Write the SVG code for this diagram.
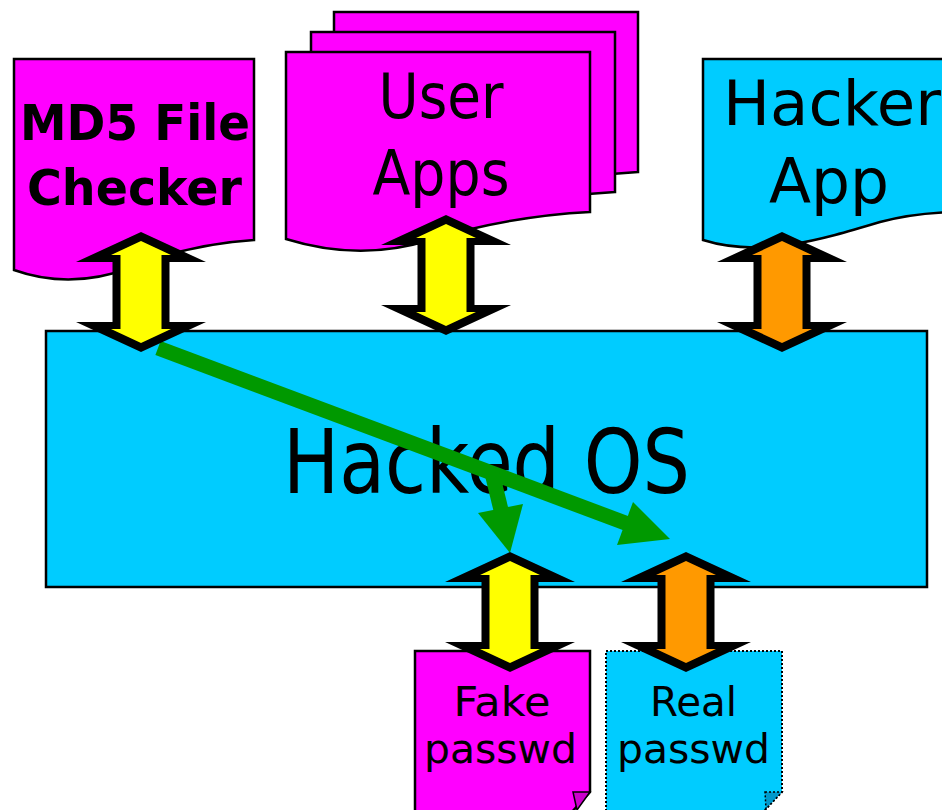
<svg xmlns="http://www.w3.org/2000/svg" xmlns:xlink="http://www.w3.org/1999/xlink" width="942" height="810" viewBox="0 0 942 810">
<style>
  .mag { fill: #FF00FF; stroke: #000; stroke-width: 2.5; stroke-linejoin: miter; }
  .cyan { fill: #00CCFF; stroke: #000; stroke-width: 2.5; }
  .dot { fill: #00CCFF; stroke: #000; stroke-width: 2; stroke-dasharray: 2 2; }
  .t { font-family: "DejaVu Sans", Verdana, sans-serif; fill: #000; text-anchor: middle; }
  .b { font-weight: bold; }
  .outer { fill: #000; }
  .yel { fill: #FFFF00; }
  .org { fill: #FF9900; }
  .green { stroke: #009900; stroke-width: 15; fill: none; }
  .ghead { fill: #009900; }
</style>
<defs>
  <polygon id="arrow-outer" points="0,0 65,30 28.5,30 28.5,90 65,90 0,120 -65,90 -28.5,90 -28.5,30 -65,30"/>
  <polygon id="arrow-inner" points="0,9 30,23 20.5,23 20.5,97 30,97 0,111 -30,97 -20.5,97 -20.5,23 -30,23"/>
</defs>

<g id="md5-checker">
  <path class="mag" d="M14,270 Q70,290 130,268 Q190,244 254,240 L254,59 L14,59 Z"/>
  <text class="t b" x="135" y="140" font-size="50" textLength="230" lengthAdjust="spacingAndGlyphs">MD5 File</text>
  <text class="t b" x="134.5" y="205" font-size="50" textLength="215" lengthAdjust="spacingAndGlyphs">Checker</text>
</g>

<g id="user-apps">
  <path class="mag" transform="translate(48,-40)" d="M286,239 Q360,262 430,240 Q510,216 590,212 L590,52 L286,52 Z"/>
  <path class="mag" transform="translate(25,-20)" d="M286,239 Q360,262 430,240 Q510,216 590,212 L590,52 L286,52 Z"/>
  <path class="mag" d="M286,239 Q360,262 430,240 Q510,216 590,212 L590,52 L286,52 Z"/>
  <text class="t" x="441" y="118" font-size="62" textLength="125" lengthAdjust="spacingAndGlyphs">User</text>
  <text class="t" x="441" y="195" font-size="62" textLength="137" lengthAdjust="spacingAndGlyphs">Apps</text>
</g>

<g id="hacker-app">
  <path class="cyan" d="M703,240 C760,258 820,240 880,222 C905,215 925,213 950,212 L950,59 L703,59 Z"/>
  <text class="t" x="723" y="125" font-size="62" text-anchor="start" style="text-anchor:start" textLength="218" lengthAdjust="spacingAndGlyphs">Hacker</text>
  <text class="t" x="829" y="203" font-size="62" textLength="120" lengthAdjust="spacingAndGlyphs">App</text>
</g>

<g id="fake-passwd">
  <path class="mag" d="M415,651 L590,651 L590,792 L571,813 L415,813 Z"/>
  <polygon points="573,792 590,792 577,810" fill="#CC00CC" stroke="#000" stroke-width="1.5"/>
  <text class="t" x="502" y="716" font-size="40" textLength="97" lengthAdjust="spacingAndGlyphs">Fake</text>
  <text class="t" x="500.5" y="763" font-size="40" textLength="153" lengthAdjust="spacingAndGlyphs">passwd</text>
</g>

<g id="real-passwd">
  <path class="dot" d="M606,651 L782,651 L782,792 L762,813 L606,813 Z"/>
  <polygon points="765,792 782,792 766,809" fill="#0099CC" stroke="#000" stroke-width="1.5" stroke-dasharray="2 2"/>
  <text class="t" x="693.5" y="716" font-size="40" textLength="87" lengthAdjust="spacingAndGlyphs">Real</text>
  <text class="t" x="693.5" y="763" font-size="40" textLength="153" lengthAdjust="spacingAndGlyphs">passwd</text>
</g>

<g id="hacked-os">
  <rect class="cyan" x="46" y="331" width="881" height="256"/>
  <text class="t" x="486.5" y="493" font-size="89" textLength="407" lengthAdjust="spacingAndGlyphs">Hacked OS</text>
</g>

<g id="connectors">
  <g id="green-flow">
    <line class="green" x1="158" y1="348" x2="628" y2="524"/>
    <polygon class="ghead" points="670,539 617,545 633,502"/>
    <line class="green" x1="492" y1="473" x2="502" y2="514"/>
    <polygon class="ghead" points="510,553 478,513 523,504"/>
  </g>
  <g id="arrow-md5" transform="translate(141,232)">
    <use xlink:href="#arrow-outer" class="outer"/><use xlink:href="#arrow-inner" class="yel"/>
  </g>
  <g id="arrow-user" transform="translate(446,215)">
    <use xlink:href="#arrow-outer" class="outer"/><use xlink:href="#arrow-inner" class="yel"/>
  </g>
  <g id="arrow-hacker" transform="translate(782,232)">
    <use xlink:href="#arrow-outer" class="outer"/><use xlink:href="#arrow-inner" class="org"/>
  </g>
  <g id="arrow-fake" transform="translate(510,552)">
    <use xlink:href="#arrow-outer" class="outer"/><use xlink:href="#arrow-inner" class="yel"/>
  </g>
  <g id="arrow-real" transform="translate(686,552)">
    <use xlink:href="#arrow-outer" class="outer"/><use xlink:href="#arrow-inner" class="org"/>
  </g>
</g>
</svg>
